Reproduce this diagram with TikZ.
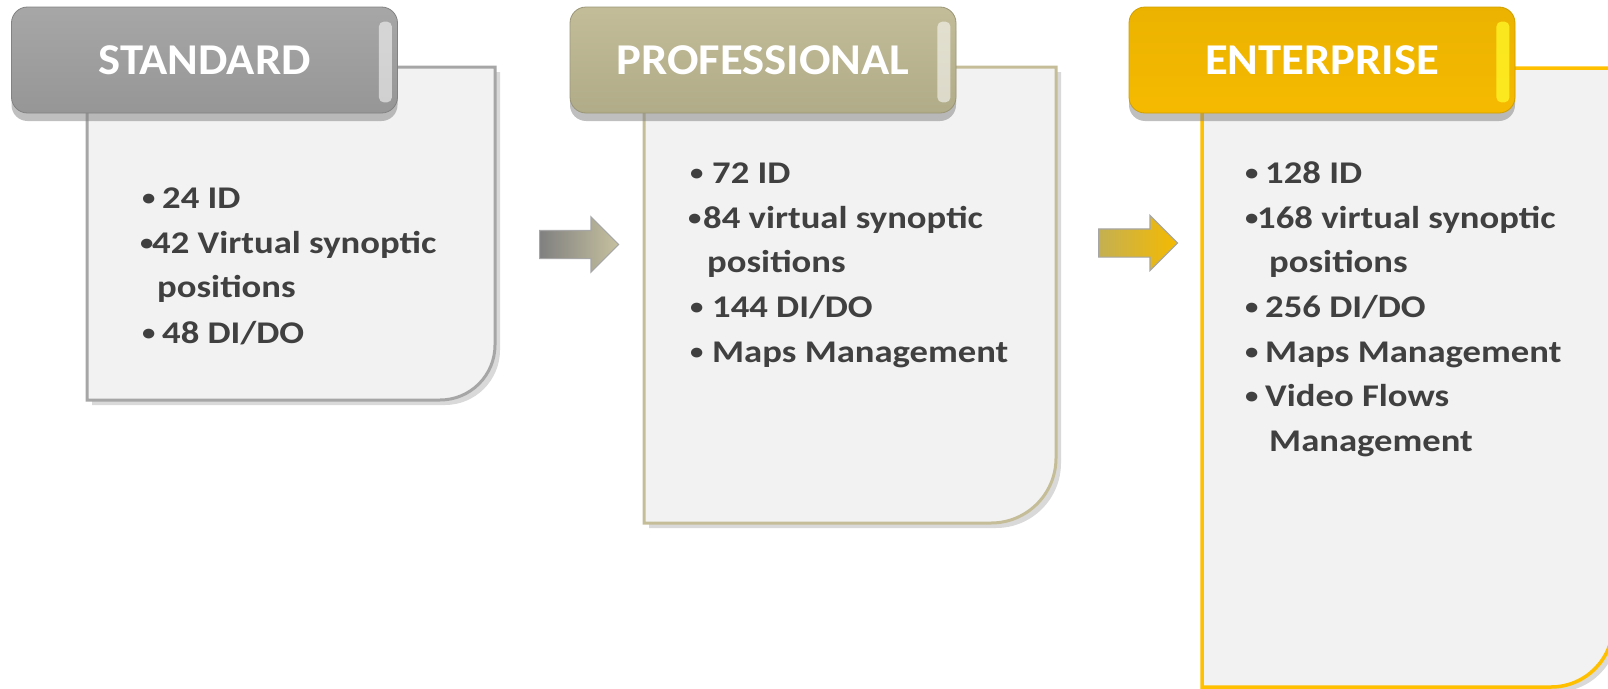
\documentclass[tikz,border=0pt]{standalone}
\usepackage{fontspec}
\usetikzlibrary{shapes.arrows,shadows}
\newfontfamily\bodyfont[FakeStretch=1.16]{Carlito}
\newfontfamily\titlefont[FakeStretch=1.06]{Carlito}
\definecolor{tier_gray}{RGB}{163,163,163}
\definecolor{tier_tan}{RGB}{192,186,148}
\definecolor{tier_gold}{RGB}{245,186,0}
\definecolor{line_gray}{RGB}{166,166,166}
\definecolor{line_tan}{RGB}{196,189,151}
\definecolor{line_gold}{RGB}{255,192,0}
\definecolor{arr_dark}{RGB}{128,128,128}
\definecolor{arr_khaki}{RGB}{196,176,82}
\definecolor{arr_light}{RGB}{232,215,140}
\definecolor{panel}{RGB}{242,242,242}
\definecolor{ink}{RGB}{64,64,64}
\newcommand{\itemdot}[1]{\makebox[#1][l]{\hspace{1pt}\fontsize{23}{23}\selectfont\raisebox{2.5pt}{•}}}
\tikzstyle{tab}=[rectangle,rounded corners=16pt,minimum width=386pt,minimum height=106pt,
  line width=0.8pt,text=white,font=\titlefont\bfseries\fontsize{44}{44}\selectfont,
  drop shadow={shadow xshift=0pt,shadow yshift=-8pt,opacity=0.5}]
\tikzstyle{gloss}=[opacity=0.55,rounded corners=5pt]
\tikzstyle{panelbox}=[fill=panel,line width=3pt,
  drop shadow={shadow xshift=5pt,shadow yshift=-5pt,opacity=0.3}]
\tikzstyle{item}=[anchor=base west,inner sep=0pt,text=ink,
  font=\bodyfont\bfseries\fontsize{31.6}{45}\selectfont]
\tikzstyle{arr}=[single arrow,single arrow head extend=13.5pt,minimum width=54pt,
  minimum height=79pt,inner xsep=0pt,inner ysep=13.5pt,line width=1.2pt,anchor=tail]

\begin{document}
\begin{tikzpicture}[x=1pt,y=-1pt]
    \path[use as bounding box,clip] (0,0) rectangle (1608,688);
    % panels
    \draw[panelbox,draw=line_gray] (87,67) -- (495,67) -- (495,345)
      arc[start angle=0,end angle=-90,radius=55pt] -- (87,400) -- cycle;
    \draw[panelbox,draw=line_tan] (644,67) -- (1056,67) -- (1056,458)
      arc[start angle=0,end angle=-90,radius=65pt] -- (644,523) -- cycle;
    \draw[panelbox,draw=line_gold,line width=3.5pt] (1202,68) -- (1613,68) -- (1613,625)
      arc[start angle=0,end angle=-90,radius=62pt] -- (1202,687) -- cycle;
    % tabs
    \node[tab,top color=tier_gray!96!white,bottom color=tier_gray!92!black,draw=tier_gray!80!black] (std) at (204.5,60) {STANDARD};
    \node[tab,top color=tier_tan!96!white,bottom color=tier_tan!92!black,draw=tier_tan!80!black] (pro) at (763,60) {PROFESSIONAL};
    \node[tab,top color=tier_gold!96!black,bottom color=tier_gold,draw=tier_gold!85!black] (ent) at (1322,60) {ENTERPRISE};
    \fill[gloss,fill=white] ([xshift=-19pt,yshift=-15pt]std.north east) rectangle ([xshift=-6pt,yshift=11pt]std.south east);
    \fill[gloss,fill=white] ([xshift=-19pt,yshift=-15pt]pro.north east) rectangle ([xshift=-6pt,yshift=11pt]pro.south east);
    \fill[gloss,fill=yellow!85!white,opacity=0.8] ([xshift=-19pt,yshift=-15pt]ent.north east) rectangle ([xshift=-6pt,yshift=11pt]ent.south east);
    % arrows
    \node[arr,left color=arr_dark,right color=tier_tan!90!white,draw=line_gray] (stepA) at (539,244.5) {};
    \node[arr,left color=arr_khaki,middle color=arr_light,right color=tier_gold,draw=line_gray] (stepB) at (1098,243) {};
    % standard
    \node[item] (s1) at (141,208) {\itemdot{21pt}24 ID};
    \node[item] (s2) at (139,253) {\itemdot{13pt}42 Virtual synoptic};
    \node[item] (s3) at (157,297) {positions};
    \node[item] (s4) at (141,343) {\itemdot{21pt}48 DI/DO};
    % professional
    \node[item] (p1) at (689,183) {\itemdot{23pt}72 ID};
    \node[item] (p2) at (687,228) {\itemdot{16pt}84 virtual synoptic};
    \node[item] (p3) at (707,272) {positions};
    \node[item] (p4) at (689,317) {\itemdot{23pt}144 DI/DO};
    \node[item] (p5) at (689,362) {\itemdot{23pt}Maps Management};
    % enterprise
    \node[item] (e1) at (1244,183) {\itemdot{21pt}128 ID};
    \node[item] (e2) at (1244,228) {\itemdot{13pt}168 virtual synoptic};
    \node[item] (e3) at (1269,272) {positions};
    \node[item] (e4) at (1244,317) {\itemdot{21pt}256 DI/DO};
    \node[item] (e5) at (1244,362) {\itemdot{21pt}Maps Management};
    \node[item] (e6) at (1244,406) {\itemdot{21pt}Video Flows};
    \node[item] (e7) at (1269,451) {Management};
\end{tikzpicture}
\end{document}
